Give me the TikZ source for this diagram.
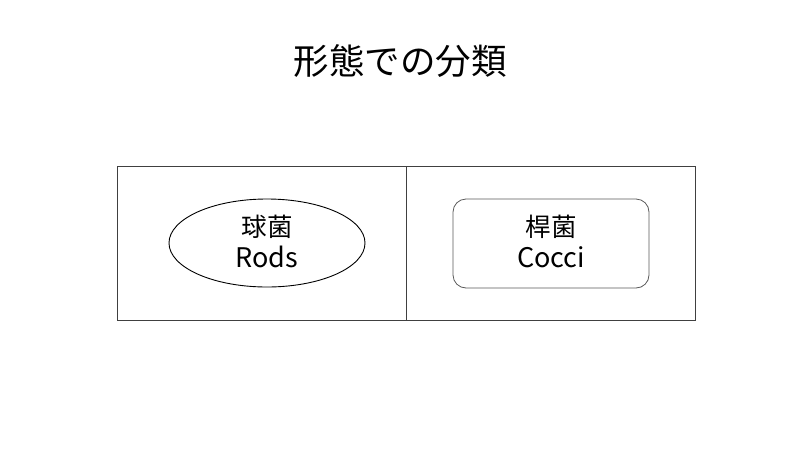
\documentclass[tikz,border=0pt]{standalone}
\usepackage{fontspec}
\setmainfont{Noto Sans CJK JP}
\usetikzlibrary{shapes.geometric}
\begin{document}
\begin{tikzpicture}[x=1pt,y=-1pt,
  frame/.style={draw=black!75,line width=0.9pt},
  lbl/.style={font=\fontsize{25.5}{31}\selectfont,align=center,inner sep=0pt}]
\useasboundingbox (0,0) rectangle (800,450);
\fill[white] (0,0) rectangle (800,450);
\node[font=\fontsize{35.5}{40}\selectfont,inner sep=0pt] (title) at (400,61) {形態での分類};
\draw[frame] (117,166) rectangle (695,320);
\coordinate (dt) at (406,166);
\coordinate (db) at (406,320);
\draw[frame] (dt) -- (db);
\node[draw=black,line width=0.9pt,ellipse,minimum width=196pt,minimum height=88pt,inner sep=0pt] (rods) at (267,243) {};
\node[lbl] at ([yshift=2pt]rods.center) {球菌\\{\fontsize{27}{31}\selectfont Rods}};
\node[draw=black!65,line width=0.8pt,rounded corners=13pt,minimum width=196pt,minimum height=89pt,inner sep=0pt] (cocci) at (551,243.5) {};
\node[lbl] at ([yshift=2pt]cocci.center) {桿菌\\{\fontsize{27}{31}\selectfont Cocci}};
\end{tikzpicture}
\end{document}
